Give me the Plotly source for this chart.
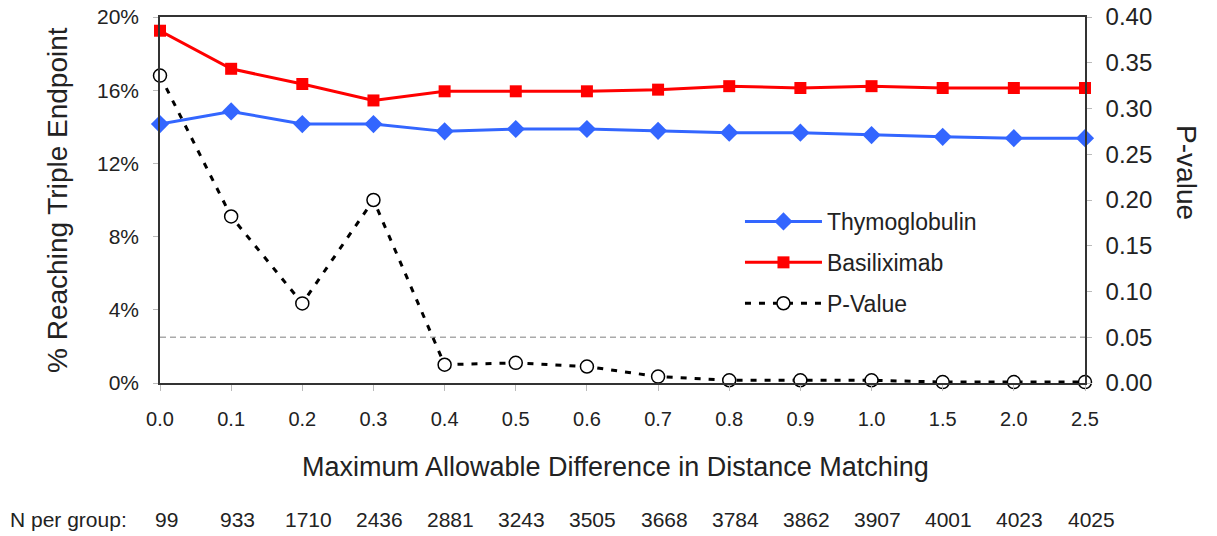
import plotly.graph_objects as go

categories = ["0.0", "0.1", "0.2", "0.3", "0.4", "0.5", "0.6", "0.7", "0.8", "0.9", "1.0", "1.5", "2.0", "2.5"]
thymoglobulin = [0.1415, 0.1484, 0.1415, 0.1415, 0.1375, 0.1388, 0.1388, 0.1378, 0.1368, 0.1368, 0.1355, 0.1345, 0.1338, 0.1338]
basiliximab = [0.1925, 0.1717, 0.1634, 0.1544, 0.1594, 0.1594, 0.1594, 0.1603, 0.1622, 0.1612, 0.1622, 0.1612, 0.1612, 0.1612]
p_value = [0.336, 0.182, 0.087, 0.200, 0.020, 0.022, 0.018, 0.007, 0.003, 0.003, 0.003, 0.001, 0.001, 0.001]
n_per_group = ["99", "933", "1710", "2436", "2881", "3243", "3505", "3668", "3784", "3862", "3907", "4001", "4023", "4025"]
significance_level = 0.05

xpos = list(range(len(categories)))
FONT = "Liberation Sans, Arial, sans-serif"
TXT = "#222222"

fig = go.Figure()
fig.add_trace(go.Scatter(
    x=xpos, y=thymoglobulin, name="Thymoglobulin", mode="lines+markers",
    line=dict(color="#3366FF", width=3),
    marker=dict(symbol="diamond", size=14, color="#3366FF"),
    cliponaxis=False, legendgroup="a"))
fig.add_trace(go.Scatter(
    x=xpos, y=basiliximab, name="Basiliximab", mode="lines+markers",
    line=dict(color="#FF0000", width=3),
    marker=dict(symbol="square", size=12, color="#FF0000"),
    cliponaxis=False, legendgroup="b"))
fig.add_trace(go.Scatter(
    x=xpos, y=p_value, name="P-Value", mode="lines+markers", yaxis="y2",
    line=dict(color="#000000", width=3, dash="6px,8px"),
    marker=dict(symbol="circle", size=13, color="white", line=dict(color="#000000", width=1.5)),
    cliponaxis=False, legendgroup="c"))

fig.add_shape(type="line", xref="x", yref="y2", x0=xpos[0], x1=xpos[-1],
              y0=significance_level, y1=significance_level,
              line=dict(color="#AAAAAA", width=1.5, dash="6px,4px"), layer="below")

fig.update_layout(
    width=1217, height=536,
    margin=dict(l=160, r=132, t=17, b=153, autoexpand=False),
    paper_bgcolor="white", plot_bgcolor="white",
    font=dict(family=FONT, size=20, color=TXT),
    showlegend=True,
    legend=dict(x=0.627, y=0.5, xanchor="left", yanchor="top",
                font=dict(size=23, color=TXT), bgcolor="rgba(0,0,0,0)",
                tracegroupgap=8, traceorder="grouped", itemwidth=77),
    xaxis=dict(range=[xpos[0], xpos[-1]], tickmode="array", tickvals=xpos, ticktext=categories,
               showline=True, linecolor="#333333", linewidth=1.5, mirror=True, automargin=False,
               ticks="outside", ticklen=6, tickcolor="#BBBBBB", showgrid=False, zeroline=False,
               ticklabelstandoff=11, ticklabeloverflow="allow", tickfont=dict(size=20, color=TXT)),
    yaxis=dict(range=[0, 0.20], dtick=0.04, tickformat=".0%", automargin=False,
               showline=True, linecolor="#333333", linewidth=1.5,
               ticks="outside", ticklen=5, tickcolor="#BBBBBB", showgrid=False, zeroline=False,
               ticklabelstandoff=10, ticklabeloverflow="allow", tickfont=dict(size=21, color=TXT)),
    yaxis2=dict(range=[0, 0.40], dtick=0.05, tickformat=".2f", overlaying="y", side="right",
                showline=True, linecolor="#333333", linewidth=1.5, automargin=False,
                ticks="outside", ticklen=5, tickcolor="#BBBBBB", showgrid=False, zeroline=False,
                ticklabelstandoff=9, ticklabeloverflow="allow", tickfont=dict(size=24, color=TXT)),
)

annotations = [
    dict(text="% Reaching Triple Endpoint", textangle=-90, xref="paper", yref="paper",
         x=-0.1114, y=0.5, xanchor="center", yanchor="middle", showarrow=False,
         font=dict(size=28, color=TXT)),
    dict(text="P-value", textangle=90, xref="paper", yref="paper",
         x=1.109, y=0.574, xanchor="center", yanchor="middle", showarrow=False,
         font=dict(size=28, color=TXT)),
    dict(text="Maximum Allowable Difference in Distance Matching", xref="paper", yref="paper",
         x=0.492, y=-0.2295, xanchor="center", yanchor="middle", showarrow=False,
         font=dict(size=27, color=TXT)),
    dict(text="N per group:", xref="paper", yref="paper",
         x=-0.1643, y=-0.374, xanchor="left", yanchor="middle", showarrow=False,
         font=dict(size=21, color=TXT)),
]
for xi, n in zip(xpos, n_per_group):
    annotations.append(dict(text=n, xref="x", yref="paper", x=xi, xshift=6, y=-0.374,
                            xanchor="center", yanchor="middle", showarrow=False,
                            font=dict(size=21, color=TXT)))
fig.update_layout(annotations=annotations)

# remove the default 8px page margin so the figure fills the window exactly
fig.write_html("out.html", config={"displayModeBar": False},
               post_script="document.body.style.margin='0';")
